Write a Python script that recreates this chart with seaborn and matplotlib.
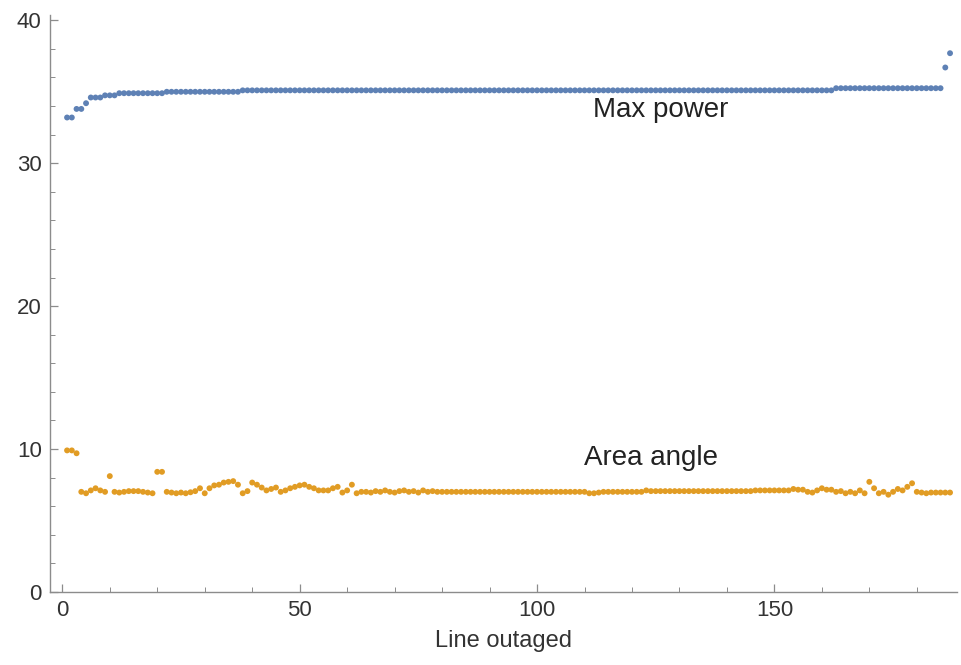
import numpy as np
import pandas as pd
import matplotlib
matplotlib.use("Agg")
import matplotlib.pyplot as plt
import seaborn as sns
from matplotlib.ticker import MultipleLocator

# values, one per outaged line (1..187)
max_power = [
    33.2, 33.2, 33.8, 33.8, 34.2, 34.6, 34.6, 34.6, 34.75, 34.75,
    34.75, 34.9, 34.9, 34.9, 34.9, 34.9, 34.9, 34.9, 34.9, 34.9,
    34.9, 35.0, 35.0, 35.0, 35.0, 35.0, 35.0, 35.0, 35.0, 35.0,
    35.0, 35.0, 35.0, 35.0, 35.0, 35.0, 35.0, 35.1, 35.1, 35.1,
    35.1, 35.1, 35.1, 35.1, 35.1, 35.1, 35.1, 35.1, 35.1, 35.1,
    35.1, 35.1, 35.1, 35.1, 35.1, 35.1, 35.1, 35.1, 35.1, 35.1,
    35.1, 35.1, 35.1, 35.1, 35.1, 35.1, 35.1, 35.1, 35.1, 35.1,
    35.1, 35.1, 35.1, 35.1, 35.1, 35.1, 35.1, 35.1, 35.1, 35.1,
    35.1, 35.1, 35.1, 35.1, 35.1, 35.1, 35.1, 35.1, 35.1, 35.1,
    35.1, 35.1, 35.1, 35.1, 35.1, 35.1, 35.1, 35.1, 35.1, 35.1,
    35.1, 35.1, 35.1, 35.1, 35.1, 35.1, 35.1, 35.1, 35.1, 35.1,
    35.1, 35.1, 35.1, 35.1, 35.1, 35.1, 35.1, 35.1, 35.1, 35.1,
    35.1, 35.1, 35.1, 35.1, 35.1, 35.1, 35.1, 35.1, 35.1, 35.1,
    35.1, 35.1, 35.1, 35.1, 35.1, 35.1, 35.1, 35.1, 35.1, 35.1,
    35.1, 35.1, 35.1, 35.1, 35.1, 35.1, 35.1, 35.1, 35.1, 35.1,
    35.1, 35.1, 35.1, 35.1, 35.1, 35.1, 35.1, 35.1, 35.1, 35.1,
    35.1, 35.1, 35.25, 35.25, 35.25, 35.25, 35.25, 35.25, 35.25, 35.25,
    35.25, 35.25, 35.25, 35.25, 35.25, 35.25, 35.25, 35.25, 35.25, 35.25,
    35.25, 35.25, 35.25, 35.25, 35.25, 36.7, 37.7,
]

area_angle = [
    9.9, 9.9, 9.7, 7.0, 6.9, 7.1, 7.25, 7.1, 7.0, 8.1,
    7.0, 6.95, 7.0, 7.05, 7.05, 7.05, 7.0, 6.95, 6.9, 8.4,
    8.4, 7.0, 6.95, 6.9, 6.95, 6.9, 6.97, 7.05, 7.25, 6.9,
    7.25, 7.45, 7.5, 7.65, 7.7, 7.75, 7.5, 6.9, 7.05, 7.65,
    7.5, 7.3, 7.1, 7.2, 7.3, 7.0, 7.1, 7.25, 7.35, 7.45,
    7.5, 7.35, 7.25, 7.1, 7.1, 7.1, 7.25, 7.35, 6.95, 7.1,
    7.5, 6.9, 7.0, 7.0, 6.95, 7.05, 7.0, 7.1, 7.0, 6.95,
    7.05, 7.1, 7.0, 7.05, 6.95, 7.1, 7.0, 7.05, 7.0, 7.0,
    7.0, 7.0, 7.0, 7.0, 7.0, 7.0, 7.0, 7.0, 7.0, 7.0,
    7.0, 7.0, 7.0, 7.0, 7.0, 7.0, 7.0, 7.0, 7.0, 7.0,
    7.0, 7.0, 7.0, 7.0, 7.0, 7.0, 7.0, 7.0, 7.0, 7.0,
    6.9, 6.9, 6.95, 7.0, 7.0, 7.0, 7.0, 7.0, 7.0, 7.0,
    7.0, 7.0, 7.1, 7.05, 7.05, 7.05, 7.05, 7.05, 7.05, 7.05,
    7.05, 7.05, 7.05, 7.05, 7.05, 7.05, 7.05, 7.05, 7.05, 7.05,
    7.05, 7.05, 7.05, 7.05, 7.05, 7.1, 7.1, 7.1, 7.1, 7.1,
    7.1, 7.1, 7.1, 7.2, 7.15, 7.15, 7.0, 6.95, 7.1, 7.25,
    7.15, 7.15, 7.0, 7.05, 6.9, 7.0, 6.9, 7.1, 6.9, 7.7,
    7.25, 6.9, 7.0, 6.8, 7.0, 7.2, 7.1, 7.35, 7.6, 7.0,
    6.95, 6.9, 6.95, 6.95, 6.95, 6.95, 6.95,
]

x_ticks = [0, 50, 100, 150]
y_ticks = [0, 10, 20, 30, 40]

blue = "#5E81B5"
orange = "#E19C24"

sns.set_style("ticks")
plt.rcParams["font.family"] = ["Liberation Sans", "DejaVu Sans"]

df_power = pd.DataFrame({"line": np.arange(1, len(max_power) + 1), "value": max_power})
df_angle = pd.DataFrame({"line": np.arange(1, len(area_angle) + 1), "value": area_angle})

fig = plt.figure(figsize=(9.61, 6.65), dpi=100)
ax = fig.add_axes([0.052, 0.11, 0.944, 0.868])

sns.scatterplot(data=df_power, x="line", y="value", color=blue, s=18,
                edgecolor="none", ax=ax)
sns.scatterplot(data=df_angle, x="line", y="value", color=orange, s=18,
                edgecolor="none", ax=ax)

ax.set_xlim(-2.6, 188.5)
ax.set_ylim(0, 40.4)
ax.set_xticks(x_ticks)
ax.set_yticks(y_ticks)
ax.xaxis.set_minor_locator(MultipleLocator(10))
ax.yaxis.set_minor_locator(MultipleLocator(2))

axis_grey = "#8c8c8c"
for side in ["top", "right"]:
    ax.spines[side].set_visible(False)
for side in ["left", "bottom"]:
    ax.spines[side].set_color(axis_grey)
    ax.spines[side].set_linewidth(1.0)

ax.tick_params(which="major", direction="in", length=6, width=0.9,
               color=axis_grey, labelsize=16, labelcolor="#333333", pad=6)
ax.tick_params(which="minor", direction="in", length=3.5, width=0.7,
               color=axis_grey)

ax.set_xlabel("Line outaged", fontsize=17, color="#333333", labelpad=6)
ax.set_ylabel("")

ax.text(126, 33.7, "Max power", fontsize=20, color="#222222",
        ha="center", va="center")
ax.text(124, 9.4, "Area angle", fontsize=20, color="#222222",
        ha="center", va="center")

fig.savefig("out.png", dpi=100)
plt.close(fig)
